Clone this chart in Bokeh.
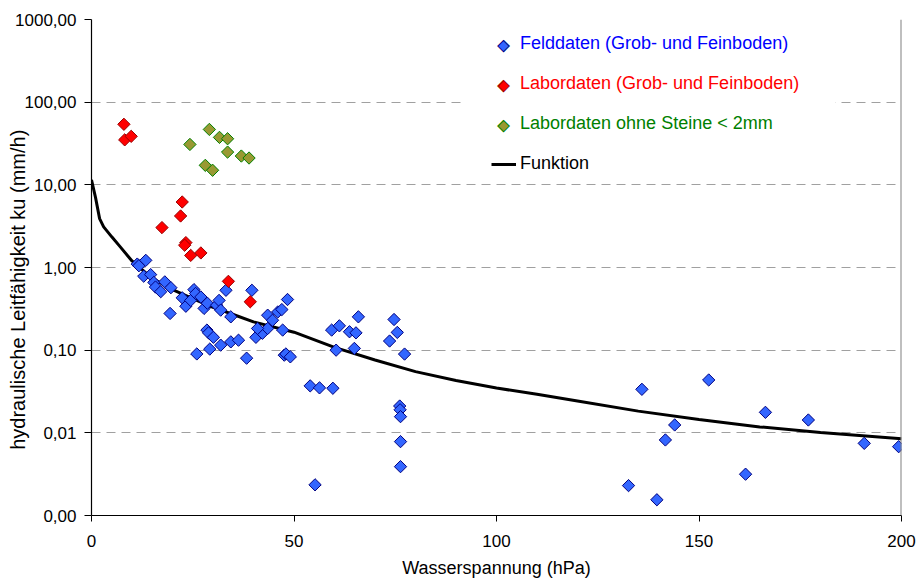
import numpy as np
from bokeh.plotting import figure
from bokeh.models import Range1d, FixedTicker, Span, Legend, LegendItem, BoxAnnotation, Label
from bokeh.embed import file_html
from bokeh.resources import INLINE

# ---- data ----
feld_x = [11.3, 11.7, 13.4, 12.9, 14.6, 15.4, 15.8, 17.1, 18.1, 19.6, 19.4, 22.4, 23.3, 24.5,
          25.3, 25.7, 27.0, 27.8, 28.6, 30.9, 31.5, 31.9, 33.2, 34.4, 39.6, 28.5, 28.9, 30.1,
          31.9, 29.2, 34.4, 36.3, 26.0, 38.3, 40.6, 42.2, 43.5, 43.5, 44.7, 46.0, 47.2, 47.6,
          48.4, 47.0, 41.0, 48.0, 49.1, 54.0, 56.3, 59.6, 55.2, 59.3, 61.2, 65.9, 63.7, 65.3,
          60.4, 64.9, 74.7, 75.5, 73.6, 77.3, 76.1, 76.2, 76.3, 76.3, 76.3,
          135.9, 152.4, 144.0, 141.7, 132.6, 139.6, 161.5, 166.4, 177.0, 190.8, 199.3]
feld_y = [1.10, 1.05, 1.22, 0.785, 0.82, 0.66, 0.58, 0.51, 0.67, 0.57, 0.278, 0.43, 0.34, 0.40,
          0.54, 0.485, 0.44, 0.32, 0.37, 0.35, 0.40, 0.305, 0.53, 0.253, 0.53, 0.175, 0.162, 0.143,
          0.115, 0.103, 0.126, 0.132, 0.090, 0.080, 0.143, 0.16, 0.183, 0.265, 0.23, 0.29, 0.175, 0.087,
          0.41, 0.31, 0.183, 0.09, 0.083, 0.037, 0.035, 0.0346, 0.00235, 0.175, 0.197, 0.253, 0.167, 0.162,
          0.10, 0.105, 0.235, 0.164, 0.129, 0.0897, 0.0211, 0.019, 0.0157, 0.00783, 0.0039,
          0.0336, 0.0436, 0.01245, 0.0082, 0.0023, 0.00155, 0.00316, 0.0177, 0.0143, 0.00746, 0.0068]

labor_x = [8.0, 8.2, 9.8, 22.4, 22.0, 17.4, 23.3, 23.0, 24.5, 27.0, 33.8, 39.2]
labor_y = [54, 35, 38.6, 6.2, 4.2, 3.04, 2.0, 1.86, 1.40, 1.5, 0.68, 0.385]

stein_x = [29.1, 24.3, 31.6, 33.6, 33.6, 37.0, 38.9, 28.1, 29.9]
stein_y = [46.8, 30.8, 37.5, 36.1, 24.9, 22.3, 21.1, 17.2, 15.0]

funk_x = [0, 1, 2, 3, 5, 7, 10, 15, 20, 25, 30, 35, 40, 50, 60, 70, 80, 90, 100,
          110, 120, 135, 150, 165, 180, 200]
funk_y = [11.5, 7.0, 3.9, 3.1, 2.35, 1.8, 1.2, 0.74, 0.54, 0.42, 0.33, 0.27, 0.22, 0.165,
          0.108, 0.076, 0.055, 0.043, 0.0348, 0.0293, 0.0243, 0.0183, 0.0145, 0.0118, 0.0101, 0.0085]

x_ticks = [0, 50, 100, 150, 200]
y_ticks = [0.001, 0.01, 0.1, 1, 10, 100, 1000]
y_tick_labels = ["0,00", "0,01", "0,10", "1,00", "10,00", "100,00", "1000,00"]

series_labels = ["Felddaten (Grob- und Feinboden)", "Labordaten (Grob- und Feinboden)",
                 "Labordaten ohne Steine < 2mm", "Funktion"]
x_title = "Wasserspannung (hPa)"
y_title = "hydraulische Leitfähigkeit ku (mm/h)"

FONT = "Liberation Sans"

p = figure(width=916, height=580, x_range=Range1d(0, 200), y_range=Range1d(0.001, 1000),
           y_axis_type="log", output_backend="svg", toolbar_location=None,
           min_border_left=91, min_border_right=15, min_border_top=19, min_border_bottom=65)
p.outline_line_color = None
p.background_fill_color = "white"

# axes
p.xaxis.ticker = FixedTicker(ticks=x_ticks)
p.yaxis.ticker = FixedTicker(ticks=y_ticks)
p.yaxis.major_label_overrides = {t: l for t, l in zip(y_ticks, y_tick_labels)}
for ax in (p.xaxis[0], p.yaxis[0]):
    ax.axis_line_color = "black"
    ax.axis_line_width = 1.2
    ax.major_tick_line_color = "black"
    ax.major_tick_in = 0
    ax.minor_tick_line_color = None
    ax.major_label_text_font = FONT
    ax.major_label_text_font_size = "17px"
    ax.major_label_text_color = "black"
    ax.axis_label_text_font = FONT
    ax.axis_label_text_font_style = "normal"
    ax.axis_label_text_color = "black"
p.xaxis.major_tick_out = 6
p.yaxis.major_tick_out = 7
p.xaxis.major_label_standoff = 13
p.yaxis.major_label_standoff = 8
p.xaxis.axis_label = x_title
p.xaxis.axis_label_text_font_size = "18px"
p.xaxis.axis_label_standoff = 8
# trailing no-break spaces shift the (bottom-to-top) title a little downwards, as in the original
p.yaxis.axis_label = y_title + "\u00a0" * 8
p.yaxis.axis_label_text_font_size = "20px"
p.yaxis.axis_label_standoff = -17

# grid
p.xgrid.visible = False
p.ygrid.grid_line_color = "#a0a0a0"
p.ygrid.grid_line_dash = "9 6"
p.ygrid.grid_line_width = 1

p.add_layout(Span(location=200, dimension="height", line_color="#808080", line_width=2))

# data
r_f = p.line(funk_x, funk_y, line_color="black", line_width=3)
r_b = p.scatter(feld_x, feld_y, marker="square", angle=np.pi / 4, size=8.7,
                fill_color="#3366FF", line_color="#000080", line_width=1)
r_r = p.scatter(labor_x, labor_y, marker="square", angle=np.pi / 4, size=8.7,
                fill_color="#FF0000", line_color="#990000", line_width=1)
r_g = p.scatter(stein_x, stein_y, marker="square", angle=np.pi / 4, size=8.7,
                fill_color="#999933", line_color="#008000", line_width=1)

# legend background
p.add_layout(BoxAnnotation(left=372, right=744, top=490, bottom=335,
                           left_units="screen", right_units="screen",
                           top_units="screen", bottom_units="screen",
                           fill_color="white", fill_alpha=1.0, line_color=None))

# transparent stand-ins so the legend rows show only text; the diamond symbols are drawn as text
d_b = p.scatter(feld_x[:1], feld_y[:1], marker="square", fill_alpha=0, line_alpha=0)
d_r = p.scatter(labor_x[:1], labor_y[:1], marker="square", fill_alpha=0, line_alpha=0)
d_g = p.scatter(stein_x[:1], stein_y[:1], marker="square", fill_alpha=0, line_alpha=0)

leg_colors = ["#0000FF", "#FF0000", "#008000", "black"]
leg_y = [461, 421, 381, 341]
for lab, rend, col, ly in zip(series_labels, [d_b, d_r, d_g, r_f], leg_colors, leg_y):
    leg = Legend(items=[LegendItem(label=lab, renderers=[rend])], location=(400, ly),
                 background_fill_alpha=0, border_line_color=None, padding=0, margin=0,
                 spacing=0, glyph_width=25, glyph_height=20, label_height=20,
                 label_standoff=4, label_text_font=FONT, label_text_font_size="18px",
                 label_text_color=col, label_text_baseline="middle")
    p.add_layout(leg)

sym_fill = ["#3366FF", "#FF0000", "#999933"]
sym_line = ["#000080", "#990000", "#008000"]
for fc, lc, ly in zip(sym_fill, sym_line, leg_y[:3]):
    p.add_layout(Label(x=412, y=ly + 10, x_units="screen", y_units="screen", text="\u25C6",
                       text_align="center", text_baseline="middle", text_font="DejaVu Sans",
                       text_font_size="15px", text_color=fc, text_outline_color=lc))

open("out.html", "w").write(file_html(p, INLINE))
